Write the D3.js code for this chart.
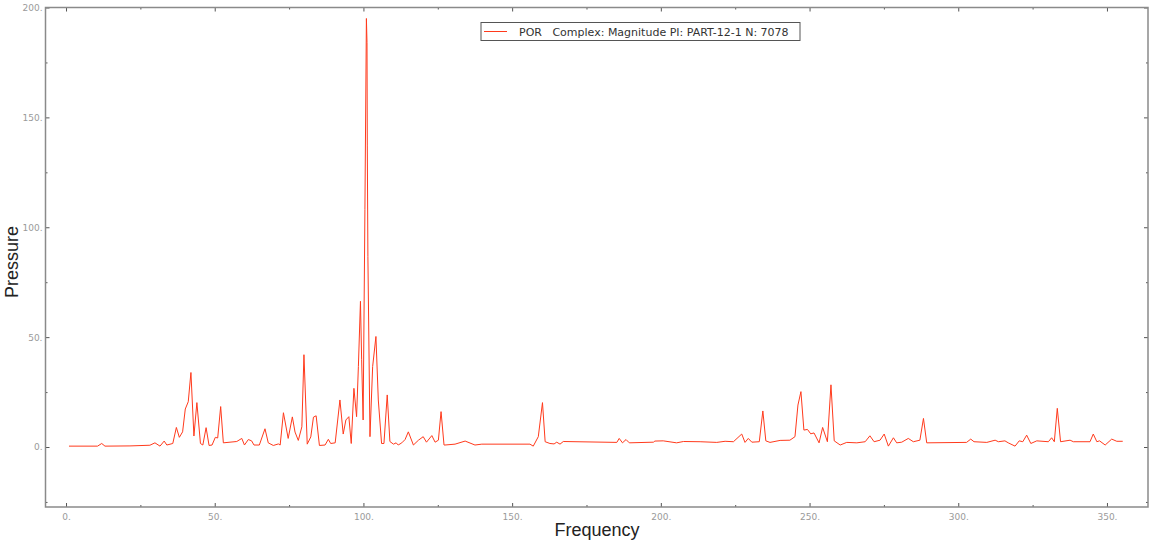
<!DOCTYPE html>
<html lang="en">
<head>
    <meta charset="UTF-8">
    <title>POR Complex Magnitude</title>
    <script src="https://cdn.jsdelivr.net/npm/d3@7"></script>
    <style>
        html, body { margin: 0; padding: 0; background: #fff; }
        svg { display: block; }
    </style>
</head>
<body>
<script>
// data
var freq = [1.0, 10.6, 12.0, 13.1, 21.5, 28.2, 29.9, 31.6, 33.0, 33.9,
    35.9, 37.1, 38.1, 39.2, 40.1, 41.1, 42.0, 43.0, 44.0, 45.2,
    46.0, 47.1, 48.1, 49.1, 50.2, 51.0, 52.0, 52.9, 57.4, 59.1,
    60.0, 61.3, 62.4, 63.2, 65.0, 66.9, 68.0, 69.7, 71.4, 72.0,
    73.1, 74.7, 76.1, 77.0, 78.1, 79.3, 80.0, 81.1, 82.3, 83.2,
    84.1, 85.2, 87.1, 88.2, 89.0, 90.5, 92.1, 93.2, 94.1, 95.1,
    95.9, 96.8, 97.7, 98.3, 99.0, 99.4, 99.9, 100.5, 101.0, 101.2,
    101.3, 101.5, 102.2, 103.1, 104.2, 105.0, 106.1, 106.9, 108.0, 108.9,
    110.1, 111.0, 111.7, 112.9, 114.0, 115.1, 116.8, 118.5, 120.1, 121.2,
    123.0, 124.1, 125.2, 126.1, 127.1, 127.4, 130.8, 134.2, 137.5, 139.8,
    156.0, 157.1, 158.8, 160.2, 161.1, 162.7, 164.1, 165.0, 166.1, 167.2,
    185.2, 186.0, 187.1, 188.3, 189.4, 197.5, 198.0, 200.8, 205.3, 207.6,
    213.2, 218.8, 221.6, 224.4, 227.2, 228.3, 229.4, 230.6, 233.1, 234.3,
    235.3, 236.7, 240.1, 243.4, 245.1, 246.1, 247.1, 248.1, 249.3, 250.4,
    251.5, 253.2, 254.4, 256.0, 257.2, 258.3, 260.3, 262.5, 265.9, 268.7,
    270.3, 271.7, 273.7, 275.1, 276.5, 278.2, 279.3, 281.0, 283.2, 284.9,
    287.1, 288.3, 289.4, 302.8, 304.2, 305.3, 309.6, 312.4, 313.5, 315.7,
    316.8, 319.1, 320.5, 321.7, 323.0, 324.4, 326.4, 330.3, 331.4, 332.3,
    333.3, 334.4, 337.6, 338.7, 344.3, 345.4, 346.6, 347.5, 349.4, 351.6,
    353.3, 355.3];

var pressure = [0.4, 0.4, 1.6, 0.4, 0.5, 0.8, 1.9, 0.4, 2.7, 0.9,
    1.6, 8.9, 4.4, 6.9, 17.3, 20.6, 33.9, 5.0, 20.2, 1.6,
    0.9, 8.8, 0.7, 0.9, 4.4, 4.1, 18.4, 1.9, 2.5, 3.9,
    0.9, 3.4, 2.8, 0.9, 0.9, 8.3, 1.9, 0.7, 1.4, 0.9,
    15.6, 3.9, 13.7, 6.8, 3.0, 9.2, 42.0, 1.3, 4.6, 13.6,
    14.2, 0.7, 0.9, 3.5, 1.6, 1.9, 21.4, 5.9, 12.3, 13.8,
    1.6, 26.7, 13.8, 36.6, 66.3, 39.7, 12.3, 108, 195, 184,
    137, 86.8, 4.7, 36.6, 50.3, 21.4, 1.6, 1.6, 23.7, 2.5,
    1.3, 1.9, 0.9, 1.9, 3.4, 6.9, 0.9, 3.1, 4.7, 2.2,
    5.2, 2.2, 3.1, 16.1, 0.9, 0.9, 1.3, 2.7, 0.9, 1.3,
    1.3, 0.4, 4.7, 20.2, 2.4, 1.6, 1.4, 2.2, 1.3, 2.5,
    2.1, 3.9, 1.9, 3.4, 1.9, 2.2, 2.7, 2.8, 1.9, 2.5,
    2.4, 2.1, 2.6, 2.4, 5.9, 2.1, 3.9, 2.2, 2.4, 16.4,
    2.8, 2.1, 3.0, 3.1, 4.7, 19.1, 25.2, 7.7, 8.0, 6.0,
    6.4, 1.9, 8.9, 2.4, 28.3, 2.8, 0.9, 2.1, 1.9, 2.4,
    5.1, 2.4, 3.1, 5.9, 0.4, 4.2, 1.9, 2.2, 3.9, 2.4,
    3.1, 13.0, 1.9, 2.1, 3.6, 2.4, 2.1, 3.1, 2.4, 2.8,
    1.9, 0.4, 2.8, 2.4, 5.4, 1.6, 2.8, 2.4, 4.2, 2.4,
    17.6, 2.4, 3.1, 2.4, 2.4, 5.9, 2.4, 2.8, 0.9, 3.6,
    2.6, 2.6];

var xMajor = [0, 50, 100, 150, 200, 250, 300, 350];
var xMinor = [25, 75, 125, 175, 225, 275, 325];
var yMajor = [0, 50, 100, 150, 200];
var yMinor = [-25, 25, 75, 125, 175];
var legendText = "POR   Complex: Magnitude PI: PART-12-1 N: 7078";

var width = 1152;
var height = 541;
var plot = { left: 45.5, right: 1148, top: 7.5, bottom: 507 };
var lineColor = "#ff3a1c";

var x = d3.scaleLinear().domain([-6.9, 363.8]).range([plot.left, plot.right]);
var y = d3.scaleLinear().domain([-27.3, 200]).range([plot.bottom, plot.top]);

var svg = d3.select("body").append("svg")
    .attr("width", width)
    .attr("height", height);

var points = freq.map(function (f, i) { return [f, pressure[i]]; });

// data line
svg.append("path")
    .datum(points)
    .attr("fill", "none")
    .attr("stroke", lineColor)
    .attr("stroke-width", 1)
    .attr("stroke-linejoin", "round")
    .attr("d", d3.line().x(function (d) { return x(d[0]); }).y(function (d) { return y(d[1]); }));

// axes: ticks point inwards on all four sides
function styleAxis(g, labels) {
    g.select(".domain").remove();
    g.selectAll(".tick line").attr("stroke", "#555");
    g.selectAll(".tick text")
        .attr("fill", labels ? "#9a9a9a" : "none")
        .style("font-family", "'DejaVu Sans', sans-serif")
        .style("font-size", "9px");
}

var fmt = function (d) { return d + "."; };

svg.append("g").attr("transform", "translate(0," + plot.bottom + ")")
    .call(d3.axisBottom(x).tickValues(xMajor).tickSize(-4).tickPadding(7).tickFormat(fmt))
    .call(styleAxis, true);
svg.append("g").attr("transform", "translate(0," + plot.bottom + ")")
    .call(d3.axisBottom(x).tickValues(xMinor).tickSize(-2).tickFormat(""))
    .call(styleAxis, false);
svg.append("g").attr("transform", "translate(0," + plot.top + ")")
    .call(d3.axisTop(x).tickValues(xMajor).tickSize(-4).tickFormat(""))
    .call(styleAxis, false);
svg.append("g").attr("transform", "translate(0," + plot.top + ")")
    .call(d3.axisTop(x).tickValues(xMinor).tickSize(-2).tickFormat(""))
    .call(styleAxis, false);

svg.append("g").attr("transform", "translate(" + plot.left + ",0)")
    .call(d3.axisLeft(y).tickValues(yMajor).tickSize(-4).tickPadding(3).tickFormat(fmt))
    .call(styleAxis, true);
svg.append("g").attr("transform", "translate(" + plot.left + ",0)")
    .call(d3.axisLeft(y).tickValues(yMinor).tickSize(-2).tickFormat(""))
    .call(styleAxis, false);
svg.append("g").attr("transform", "translate(" + plot.right + ",0)")
    .call(d3.axisRight(y).tickValues(yMajor).tickSize(-4).tickFormat(""))
    .call(styleAxis, false);
svg.append("g").attr("transform", "translate(" + plot.right + ",0)")
    .call(d3.axisRight(y).tickValues(yMinor).tickSize(-2).tickFormat(""))
    .call(styleAxis, false);

// frame
svg.append("rect")
    .attr("x", plot.left)
    .attr("y", plot.top)
    .attr("width", plot.right - plot.left)
    .attr("height", plot.bottom - plot.top)
    .attr("fill", "none")
    .attr("stroke", "#8a8a8a")
    .attr("stroke-width", 1.5);

// axis titles
svg.append("text")
    .attr("x", 597)
    .attr("y", 536)
    .attr("text-anchor", "middle")
    .attr("fill", "#222")
    .style("font-family", "'Liberation Sans', Arial, sans-serif")
    .style("font-size", "18px")
    .text("Frequency");

svg.append("text")
    .attr("transform", "translate(18,262) rotate(-90)")
    .attr("text-anchor", "middle")
    .attr("fill", "#222")
    .style("font-family", "'Liberation Sans', Arial, sans-serif")
    .style("font-size", "18px")
    .text("Pressure");

// legend
var legend = svg.append("g").attr("transform", "translate(481,22.5)");
legend.append("rect")
    .attr("width", 319)
    .attr("height", 18)
    .attr("fill", "#fff")
    .attr("stroke", "#555")
    .attr("stroke-width", 1);
legend.append("line")
    .attr("x1", 3).attr("x2", 26)
    .attr("y1", 9).attr("y2", 9)
    .attr("stroke", lineColor)
    .attr("stroke-width", 1);
legend.append("text")
    .attr("x", 38)
    .attr("y", 13)
    .attr("fill", "#333")
    .attr("xml:space", "preserve")
    .style("white-space", "pre")
    .style("font-family", "'DejaVu Sans', sans-serif")
    .style("font-size", "11px")
    .text(legendText);
</script>
</body>
</html>
